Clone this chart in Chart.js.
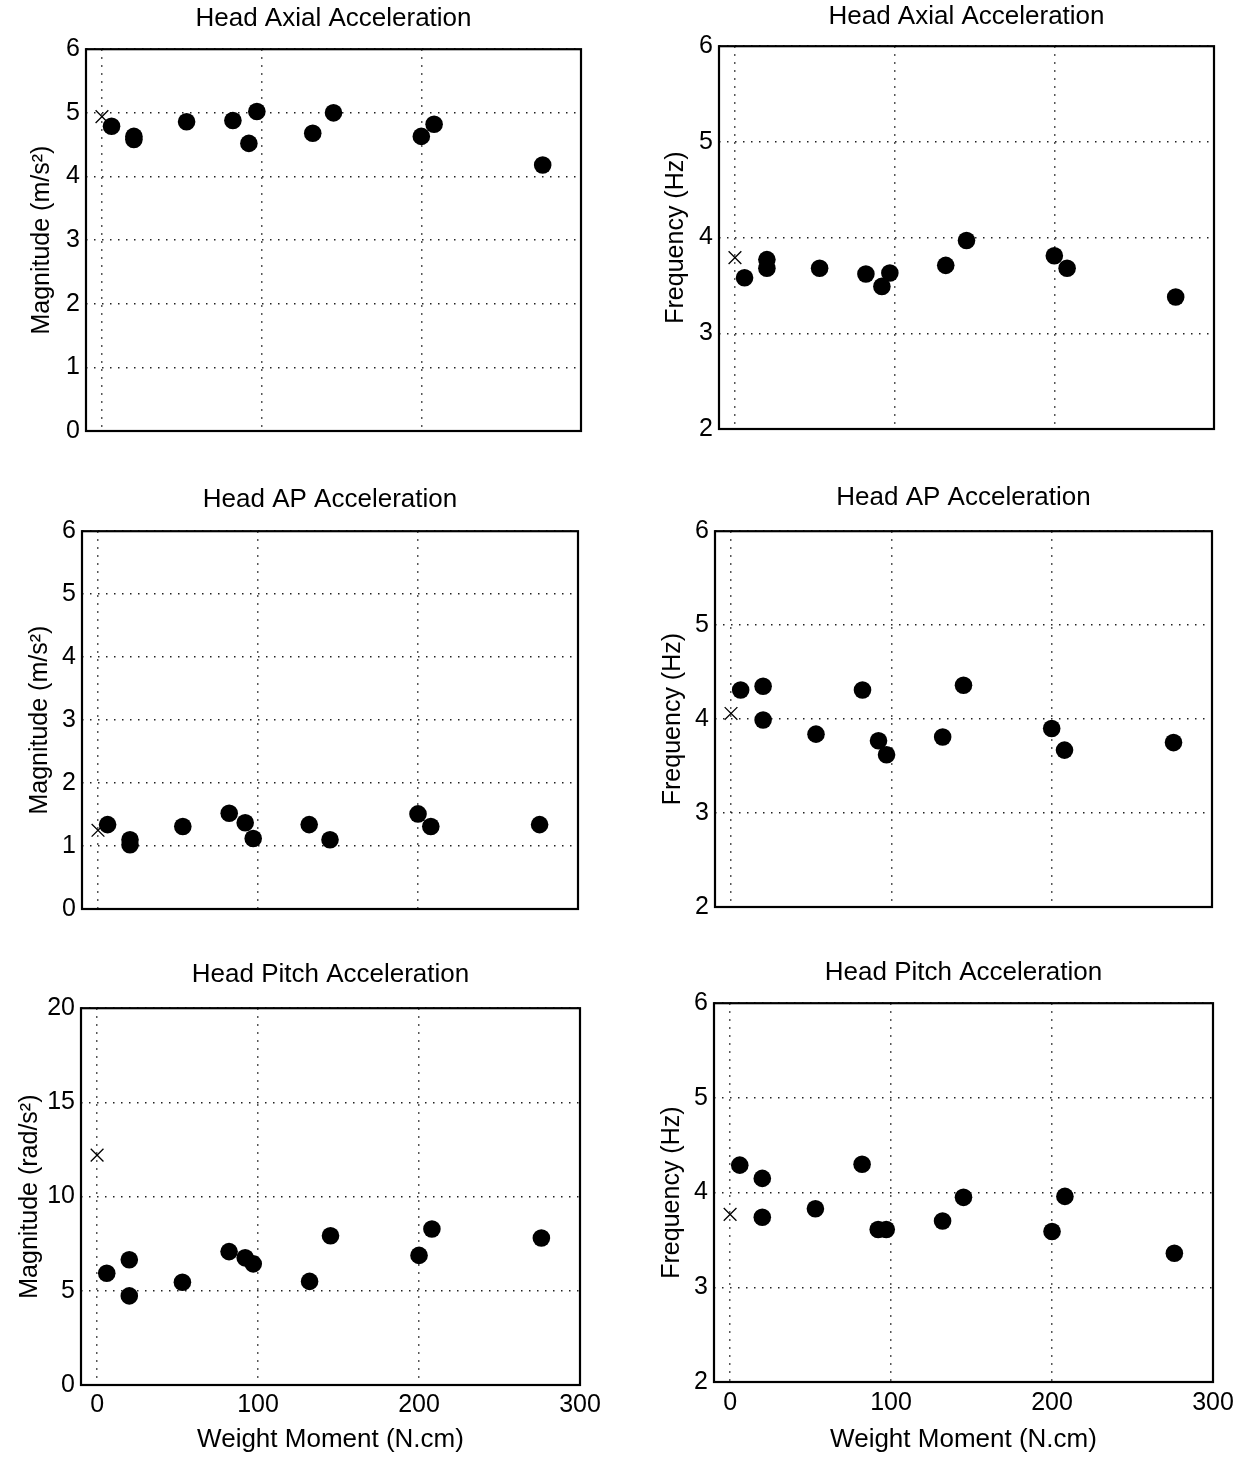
<!DOCTYPE html>
<html>
<head>
<meta charset="utf-8">
<script src="https://cdn.jsdelivr.net/npm/chart.js@4.4.0/dist/chart.umd.min.js"></script>
<style>
  body { margin: 0; background: #fff; width: 1241px; height: 1458px; position: relative; overflow: hidden; }
  canvas { position: absolute; }
</style>
</head>
<body>
<canvas id="axial-mag" width="620" height="470" style="left:0;top:0"></canvas>
<canvas id="axial-freq" width="621" height="470" style="left:620px;top:0"></canvas>
<canvas id="ap-mag" width="620" height="480" style="left:0;top:470px"></canvas>
<canvas id="ap-freq" width="621" height="480" style="left:620px;top:470px"></canvas>
<canvas id="pitch-mag" width="620" height="508" style="left:0;top:950px"></canvas>
<canvas id="pitch-freq" width="621" height="508" style="left:620px;top:950px"></canvas>
<script>
// x values shared by every panel (weight moment, N.cm)
const weightMoment = [6, 20, 20, 53, 82, 92, 97, 132, 145, 200, 208, 276];
const noWeightMoment = [0];

// Head axial
const axialMagnitude = [4.79, 4.63, 4.58, 4.86, 4.88, 4.52, 5.02, 4.68, 5.00, 4.63, 4.82, 4.18];
const axialMagnitudeNoWeight = [4.94];
const axialFrequency = [3.58, 3.77, 3.68, 3.68, 3.62, 3.49, 3.63, 3.71, 3.97, 3.81, 3.68, 3.38];
const axialFrequencyNoWeight = [3.79];

// Head AP
const apMagnitude = [1.34, 1.10, 1.02, 1.31, 1.52, 1.37, 1.12, 1.34, 1.10, 1.51, 1.31, 1.34];
const apMagnitudeNoWeight = [1.25];
const apFrequency = [4.31, 4.35, 3.99, 3.84, 4.31, 3.77, 3.62, 3.81, 4.36, 3.90, 3.67, 3.75];
const apFrequencyNoWeight = [4.06];

// Head pitch
const pitchMagnitude = [5.93, 6.65, 4.73, 5.45, 7.08, 6.75, 6.43, 5.50, 7.92, 6.88, 8.28, 7.80];
const pitchMagnitudeNoWeight = [12.2];
const pitchFrequency = [4.29, 4.15, 3.74, 3.83, 4.30, 3.61, 3.61, 3.70, 3.95, 3.59, 3.96, 3.36];
const pitchFrequencyNoWeight = [3.77];

// tick labels
const momentTicks = [0, 100, 200, 300];
const magnitudeTicks = [0, 1, 2, 3, 4, 5, 6];
const frequencyTicks = [2, 3, 4, 5, 6];
const pitchMagnitudeTicks = [0, 5, 10, 15, 20];

Chart.defaults.font.family = "'Liberation Sans', Arial, sans-serif";
Chart.defaults.color = '#000';

// MATLAB style box round the axes
const boxPlugin = {
  id: 'axesBox',
  afterDraw(chart) {
    const a = chart.chartArea;
    const ctx = chart.ctx;
    ctx.save();
    ctx.strokeStyle = '#000';
    ctx.lineWidth = 2.2;
    ctx.strokeRect(a.left, a.top, a.right - a.left, a.bottom - a.top);
    ctx.restore();
  }
};

function toPoints(xs, ys) {
  return xs.map((x, i) => ({ x: x, y: ys[i] }));
}

const dotted = { color: '#222', lineWidth: 1.5, drawTicks: false };

function makePanel(id, p) {
  return new Chart(document.getElementById(id), {
    type: 'scatter',
    data: {
      datasets: [
        {
          data: toPoints(weightMoment, p.values),
          pointStyle: 'circle',
          pointRadius: 8.8,
          backgroundColor: '#000',
          borderColor: '#000',
          borderWidth: 0
        },
        {
          data: toPoints(noWeightMoment, p.noWeight),
          pointStyle: 'crossRot',
          pointRadius: 9,
          borderColor: '#000',
          borderWidth: 1.3
        }
      ]
    },
    options: {
      responsive: false,
      animation: false,
      devicePixelRatio: 1,
      layout: { padding: { left: 0, right: p.right, top: 0, bottom: 0 } },
      plugins: {
        legend: { display: false },
        tooltip: { enabled: false },
        title: {
          display: true,
          text: p.title,
          fullSize: false,
          color: '#000',
          font: { size: 26, weight: 'normal' },
          padding: { top: p.titleTop, bottom: p.titleBottom }
        }
      },
      scales: {
        x: {
          type: 'linear',
          min: -10,
          max: 300,
          afterBuildTicks: s => { s.ticks = momentTicks.map(v => ({ value: v })); },
          afterFit: s => { s.height = p.xHeight; },
          grid: dotted,
          border: { display: false, dash: [1.5, 6.5] },
          ticks: { display: p.showX, font: { size: 25 }, padding: p.xTickPad || 5, maxRotation: 0 },
          title: {
            display: p.showX,
            text: 'Weight Moment (N.cm)',
            font: { size: 26 },
            padding: { bottom: 3 }
          }
        },
        y: {
          min: p.yTicks[0],
          max: p.yTicks[p.yTicks.length - 1],
          afterBuildTicks: s => { s.ticks = p.yTicks.map(v => ({ value: v })); },
          afterFit: s => { s.width = p.yWidth; },
          grid: dotted,
          border: { display: false, dash: [1.5, 6.5] },
          ticks: { font: { size: 25 }, padding: 6 },
          title: {
            display: true,
            text: p.yLabel,
            font: { size: 25 },
            padding: { top: p.yTitlePad }
          }
        }
      }
    },
    plugins: [boxPlugin]
  });
}

makePanel('axial-mag', {
  title: 'Head Axial Acceleration', yLabel: 'Magnitude (m/s²)',
  values: axialMagnitude, noWeight: axialMagnitudeNoWeight, yTicks: magnitudeTicks,
  yWidth: 86, right: 39, titleTop: 3, titleBottom: 15, xHeight: 39, yTitlePad: 27, showX: false
});
makePanel('axial-freq', {
  title: 'Head Axial Acceleration', yLabel: 'Frequency (Hz)',
  values: axialFrequency, noWeight: axialFrequencyNoWeight, yTicks: frequencyTicks,
  yWidth: 99, right: 27, titleTop: 1, titleBottom: 14, xHeight: 41, yTitlePad: 41, showX: false
});
makePanel('ap-mag', {
  title: 'Head AP Acceleration', yLabel: 'Magnitude (m/s²)',
  values: apMagnitude, noWeight: apMagnitudeNoWeight, yTicks: magnitudeTicks,
  yWidth: 82, right: 42, titleTop: 14, titleBottom: 16, xHeight: 41, yTitlePad: 25, showX: false
});
makePanel('ap-freq', {
  title: 'Head AP Acceleration', yLabel: 'Frequency (Hz)',
  values: apFrequency, noWeight: apFrequencyNoWeight, yTicks: frequencyTicks,
  yWidth: 95, right: 29, titleTop: 12, titleBottom: 18, xHeight: 43, yTitlePad: 38, showX: false
});
makePanel('pitch-mag', {
  title: 'Head Pitch Acceleration', yLabel: 'Magnitude (rad/s²)',
  values: pitchMagnitude, noWeight: pitchMagnitudeNoWeight, yTicks: pitchMagnitudeTicks,
  yWidth: 81, right: 40, titleTop: 9, titleBottom: 18, xHeight: 73, yTitlePad: 15, showX: true, xTickPad: 5
});
makePanel('pitch-freq', {
  title: 'Head Pitch Acceleration', yLabel: 'Frequency (Hz)',
  values: pitchFrequency, noWeight: pitchFrequencyNoWeight, yTicks: frequencyTicks,
  yWidth: 94, right: 28, titleTop: 7, titleBottom: 15, xHeight: 76, yTitlePad: 37, showX: true, xTickPad: 6
});
</script>
</body>
</html>
